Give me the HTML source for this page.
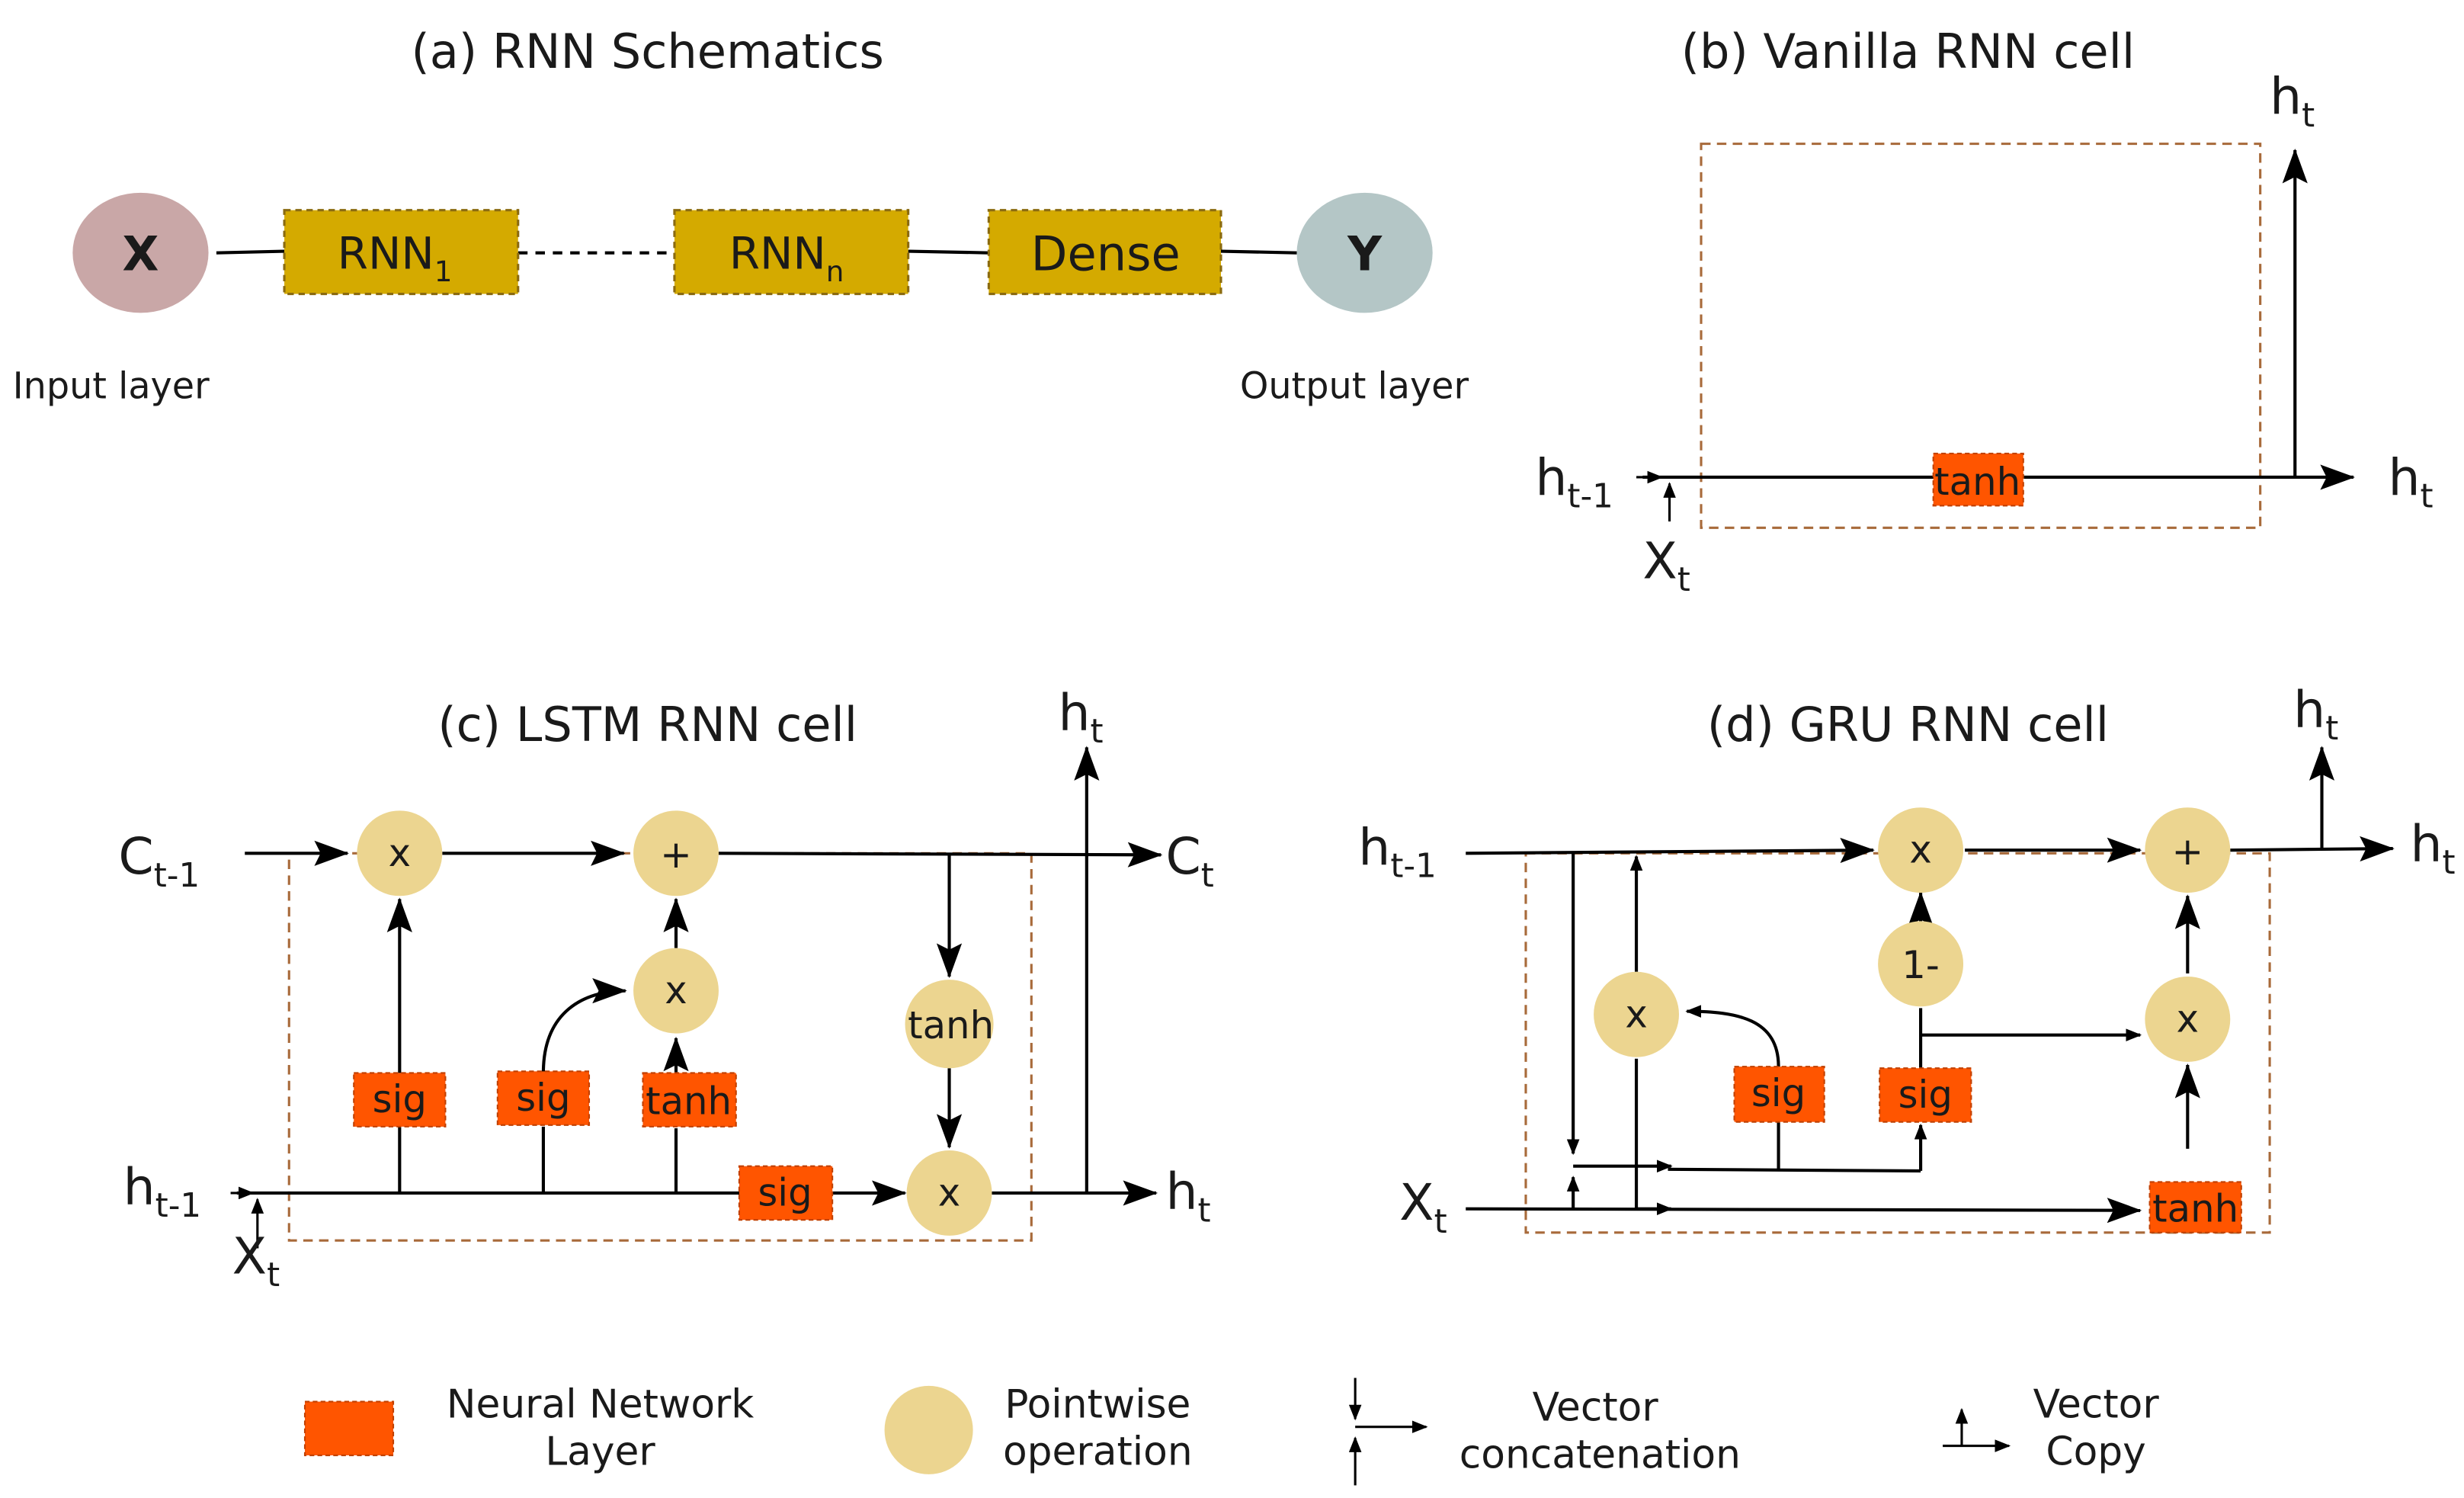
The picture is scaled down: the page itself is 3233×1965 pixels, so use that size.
<!DOCTYPE html>
<html><head><meta charset="utf-8"><style>
html,body{margin:0;padding:0;background:#fff;}
svg{display:block;}
text{font-family:"DejaVu Sans","Liberation Sans",sans-serif;fill:#1a1a1a;}
</style></head><body>
<svg width="3233" height="1965" viewBox="0 0 1560 948" preserveAspectRatio="none" xmlns="http://www.w3.org/2000/svg">
<defs>
<marker id="a" markerWidth="10" markerHeight="8" refX="9" refY="4" orient="auto" markerUnits="userSpaceOnUse"><path d="M0,0 L10,4 L0,8 Z" fill="#000"/></marker>
<marker id="A" markerWidth="22" markerHeight="16" refX="21" refY="8" orient="auto" markerUnits="userSpaceOnUse"><path d="M0,0 L22,8 L0,16 L4,8 Z" fill="#000"/></marker>
</defs>
<g stroke="#000" stroke-width="2" fill="none">
<line x1="137" y1="160" x2="180" y2="159"/>
<line x1="328" y1="160" x2="427" y2="160" stroke-dasharray="6,5"/>
<line x1="575" y1="159" x2="626" y2="160"/>
<line x1="773" y1="159" x2="821" y2="160"/>
</g>
<ellipse cx="89" cy="160" rx="43" ry="38" fill="#c9a7a7"/>
<ellipse cx="864" cy="160" rx="43" ry="38" fill="#b4c6c6"/>
<g fill="#d4aa00" stroke="#8a6a10" stroke-width="1.5" stroke-dasharray="4,3">
<rect x="180" y="133" width="148" height="53"/>
<rect x="427" y="133" width="148" height="53"/>
<rect x="626" y="133" width="147" height="53"/>
</g>
<text x="410" y="43" font-size="30" text-anchor="middle">(a) RNN Schematics</text>
<text x="89" y="171" font-size="30" font-weight="bold" text-anchor="middle">X</text>
<text x="864" y="171" font-size="30" font-weight="bold" text-anchor="middle">Y</text>
<text x="250" y="170" font-size="28" text-anchor="middle">RNN<tspan font-size="18" dy="8">1</tspan></text>
<text x="498" y="170" font-size="28" text-anchor="middle">RNN<tspan font-size="18" dy="8">n</tspan></text>
<text x="700" y="171" font-size="30" text-anchor="middle">Dense</text>
<text x="8" y="252" font-size="23">Input layer</text>
<text x="785" y="252" font-size="23">Output layer</text>

<text x="1208" y="43" font-size="30" text-anchor="middle">(b) Vanilla RNN cell</text>
<rect x="1077" y="91" width="354" height="243" fill="none" stroke="#a86a3a" stroke-width="1.5" stroke-dasharray="6,4"/>
<g stroke="#000" stroke-width="2" fill="none">
<line x1="1040" y1="302" x2="1490" y2="302" marker-end="url(#A)"/>
<line x1="1453" y1="302" x2="1453" y2="95" marker-end="url(#A)"/>
<line x1="1036" y1="302" x2="1052" y2="302" marker-end="url(#a)" stroke-width="1.5"/>
<line x1="1057" y1="330" x2="1057" y2="306" marker-end="url(#a)" stroke-width="1.5"/>
</g>
<rect x="1224" y="287" width="57" height="33" fill="#ff5500" stroke="#c04000" stroke-dasharray="3,2"/>
<text x="1252" y="313" font-size="24" text-anchor="middle">tanh</text>
<text x="1437" y="72" font-size="32">h<tspan font-size="21" dy="8">t</tspan></text>
<text x="1512" y="313" font-size="32">h<tspan font-size="21" dy="8">t</tspan></text>
<text x="972" y="313" font-size="32">h<tspan font-size="21" dy="8">t-1</tspan></text>
<text x="1040" y="366" font-size="32">X<tspan font-size="21" dy="8">t</tspan></text>

<text x="410" y="469" font-size="30" text-anchor="middle">(c) LSTM RNN cell</text>
<rect x="183" y="540" width="470" height="245" fill="none" stroke="#a86a3a" stroke-width="1.5" stroke-dasharray="6,4"/>
<g stroke="#000" stroke-width="2" fill="none">
<line x1="155" y1="540" x2="220" y2="540" marker-end="url(#A)"/>
<line x1="280" y1="540" x2="395" y2="540" marker-end="url(#A)"/>
<line x1="455" y1="540" x2="735" y2="541" marker-end="url(#A)"/>
<line x1="601" y1="540" x2="601" y2="618" marker-end="url(#A)"/>
<line x1="601" y1="676" x2="601" y2="726" marker-end="url(#A)"/>
<line x1="150" y1="755" x2="573" y2="755" marker-end="url(#A)"/>
<line x1="628" y1="755" x2="732" y2="755" marker-end="url(#A)"/>
<line x1="688" y1="755" x2="688" y2="473" marker-end="url(#A)"/>
<line x1="253" y1="755" x2="253" y2="713"/>
<line x1="253" y1="679" x2="253" y2="569" marker-end="url(#A)"/>
<line x1="344" y1="755" x2="344" y2="713"/>
<path d="M344,679 C344,640 370,627 396,627" marker-end="url(#A)"/>
<line x1="428" y1="755" x2="428" y2="714"/>
<line x1="428" y1="679" x2="428" y2="657" marker-end="url(#A)"/>
<line x1="428" y1="600" x2="428" y2="569" marker-end="url(#A)"/>
<line x1="146" y1="755" x2="160" y2="755" marker-end="url(#a)" stroke-width="1.5"/>
<line x1="163" y1="790" x2="163" y2="759" marker-end="url(#a)" stroke-width="1.5"/>
</g>
<g fill="#ecd590">
<circle cx="253" cy="540" r="27"/><circle cx="428" cy="540" r="27"/>
<circle cx="428" cy="627" r="27"/><circle cx="601" cy="648" r="28"/><circle cx="601" cy="755" r="27"/>
</g>
<g fill="#ff5500" stroke="#c04000" stroke-dasharray="3,2">
<rect x="224" y="679" width="58" height="34"/><rect x="315" y="678" width="58" height="34"/>
<rect x="407" y="679" width="59" height="34"/><rect x="468" y="738" width="59" height="34"/>
</g>
<g font-size="24" text-anchor="middle">
<text x="253" y="704">sig</text><text x="344" y="703">sig</text><text x="436" y="705">tanh</text><text x="497" y="763">sig</text>
<text x="253" y="548">x</text><text x="428" y="549">+</text><text x="428" y="635">x</text><text x="602" y="657">tanh</text><text x="601" y="763">x</text>
</g>
<text x="75" y="553" font-size="32">C<tspan font-size="21" dy="8">t-1</tspan></text>
<text x="738" y="553" font-size="32">C<tspan font-size="21" dy="8">t</tspan></text>
<text x="78" y="762" font-size="32">h<tspan font-size="21" dy="8">t-1</tspan></text>
<text x="738" y="765" font-size="32">h<tspan font-size="21" dy="8">t</tspan></text>
<text x="670" y="462" font-size="32">h<tspan font-size="21" dy="8">t</tspan></text>
<text x="147" y="806" font-size="32">X<tspan font-size="21" dy="8">t</tspan></text>

<text x="1208" y="469" font-size="30" text-anchor="middle">(d) GRU RNN cell</text>
<rect x="966" y="540" width="471" height="240" fill="none" stroke="#a86a3a" stroke-width="1.5" stroke-dasharray="6,4"/>
<g stroke="#000" stroke-width="2" fill="none">
<line x1="928" y1="540" x2="1186" y2="538" marker-end="url(#A)"/>
<line x1="1244" y1="538" x2="1355" y2="538" marker-end="url(#A)"/>
<line x1="1412" y1="538" x2="1515" y2="537" marker-end="url(#A)"/>
<line x1="1470" y1="538" x2="1470" y2="473" marker-end="url(#A)"/>
<line x1="1216" y1="583" x2="1216" y2="565" marker-end="url(#A)"/>
<line x1="1216" y1="676" x2="1216" y2="638"/>
<line x1="1216" y1="655" x2="1355" y2="655" marker-end="url(#a)"/>
<line x1="1385" y1="616" x2="1385" y2="567" marker-end="url(#A)"/>
<line x1="1385" y1="727" x2="1385" y2="674" marker-end="url(#A)"/>
<line x1="1036" y1="615" x2="1036" y2="542" marker-end="url(#a)"/>
<path d="M1126,675 C1126,645 1100,640 1068,640" marker-end="url(#a)"/>
<line x1="996" y1="540" x2="996" y2="730" marker-end="url(#a)"/>
<line x1="928" y1="765" x2="1355" y2="766" marker-end="url(#A)"/>
<line x1="996" y1="738" x2="1058" y2="738" marker-end="url(#a)"/>
<line x1="1056" y1="740" x2="1216" y2="741"/>
<line x1="1216" y1="741" x2="1216" y2="712" marker-end="url(#a)"/>
<line x1="1126" y1="740" x2="1126" y2="710"/>
<line x1="1036" y1="765" x2="1036" y2="670"/>
<line x1="996" y1="765" x2="996" y2="745" marker-end="url(#a)"/>
<line x1="1036" y1="765" x2="1058" y2="765" marker-end="url(#a)"/>
</g>
<g fill="#ecd590">
<circle cx="1216" cy="538" r="27"/><circle cx="1385" cy="538" r="27"/>
<circle cx="1216" cy="610" r="27"/><circle cx="1385" cy="645" r="27"/><circle cx="1036" cy="642" r="27"/>
</g>
<g fill="#ff5500" stroke="#c04000" stroke-dasharray="3,2">
<rect x="1190" y="676" width="58" height="34"/><rect x="1098" y="675" width="57" height="35"/>
<rect x="1361" y="748" width="58" height="32"/>
</g>
<g font-size="24" text-anchor="middle">
<text x="1219" y="701">sig</text><text x="1126" y="700">sig</text><text x="1390" y="773">tanh</text>
<text x="1216" y="546">x</text><text x="1385" y="547">+</text><text x="1216" y="619">1-</text><text x="1385" y="653">x</text><text x="1036" y="650">x</text>
</g>
<text x="860" y="547" font-size="32">h<tspan font-size="21" dy="8">t-1</tspan></text>
<text x="1526" y="545" font-size="32">h<tspan font-size="21" dy="8">t</tspan></text>
<text x="1452" y="460" font-size="32">h<tspan font-size="21" dy="8">t</tspan></text>
<text x="886" y="772" font-size="32">X<tspan font-size="21" dy="8">t</tspan></text>

<rect x="193" y="887" width="56" height="34" fill="#ff5500" stroke="#c04000" stroke-dasharray="3,2"/>
<text x="380" y="897" font-size="25" text-anchor="middle">Neural Network</text>
<text x="380" y="927" font-size="25" text-anchor="middle">Layer</text>
<circle cx="588" cy="905" r="28" fill="#ecd590"/>
<text x="695" y="897" font-size="25" text-anchor="middle">Pointwise</text>
<text x="695" y="927" font-size="25" text-anchor="middle">operation</text>
<g stroke="#000" stroke-width="1.5" fill="none">
<line x1="858" y1="872" x2="858" y2="898" marker-end="url(#a)"/>
<line x1="858" y1="940" x2="858" y2="910" marker-end="url(#a)"/>
<line x1="858" y1="903" x2="903" y2="903" marker-end="url(#a)"/>
<line x1="1242" y1="915" x2="1242" y2="892" marker-end="url(#a)"/>
<line x1="1230" y1="915" x2="1272" y2="915" marker-end="url(#a)"/>
</g>
<text x="1010" y="899" font-size="25" text-anchor="middle">Vector</text>
<text x="1013" y="929" font-size="25" text-anchor="middle">concatenation</text>
<text x="1327" y="897" font-size="25" text-anchor="middle">Vector</text>
<text x="1327" y="927" font-size="25" text-anchor="middle">Copy</text>
</svg>
</body></html>
